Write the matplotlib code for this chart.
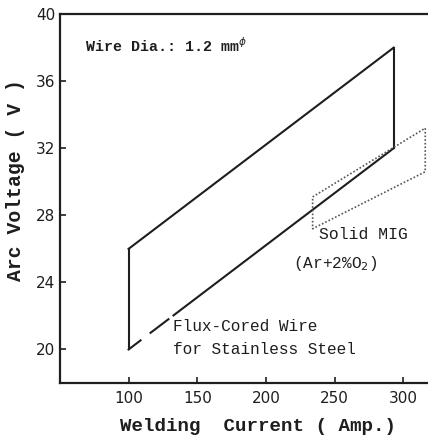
import matplotlib.pyplot as plt

# flux-cored wire operating window (current A, voltage V)
flux_current = [100, 100, 293, 293]
flux_voltage = [26, 20, 32, 38]

# solid MIG window (dotted)
mig_current = [234, 316, 316, 234, 234]
mig_voltage = [29.1, 33.2, 30.6, 27.2, 29.1]

x_ticks = [100, 150, 200, 250, 300]
y_ticks = [20, 24, 28, 32, 36, 40]

mono = 'Liberation Mono'
ink = '#1e1e1e'

fig = plt.figure(figsize=(4.28, 4.41), dpi=100)
ax = fig.add_axes([0.140, 0.1315, 0.86, 0.8365])

# upper edge, verticals
ax.plot([flux_current[0], flux_current[3]], [flux_voltage[0], flux_voltage[3]], color=ink, lw=1.5)
ax.plot([flux_current[0], flux_current[1]], [flux_voltage[0], flux_voltage[1]], color=ink, lw=1.5)
ax.plot([flux_current[3], flux_current[2]], [flux_voltage[3], flux_voltage[2]], color=ink, lw=1.5)

# lower edge, broken near the start where the leader to the label is
slope = (flux_voltage[2] - flux_voltage[1]) / (flux_current[2] - flux_current[1])
low = lambda a: flux_voltage[1] + slope * (a - flux_current[1])
for a0, a1 in [(100, 108.7), (116, 129), (132.7, 293)]:
    ax.plot([a0, a1], [low(a0), low(a1)], color=ink, lw=1.5)

ax.plot(mig_current, mig_voltage, color='#555555', lw=1.2, ls=(0, (1, 1.2)))

ax.set_xlim(50, 318)
ax.set_ylim(18, 40)
ax.set_xticks(x_ticks)
ax.set_yticks(y_ticks)
ax.tick_params(direction='in', length=4, width=1.2, labelsize=11, color=ink, labelcolor=ink)
ax.tick_params(axis='x', pad=6)
ax.spines['right'].set_visible(False)
for s in ['left', 'bottom', 'top']:
    ax.spines[s].set_linewidth(1.6)
    ax.spines[s].set_color(ink)

ax.set_xlabel('Welding  Current ( Amp.)', family=mono, fontsize=13.8, fontweight='bold', color=ink)
ax.set_ylabel('Arc Voltage ( V )', family=mono, fontsize=14.2, fontweight='bold', color=ink)
ax.xaxis.set_label_coords(0.538, -0.095)
ax.yaxis.set_label_coords(-0.095, 0.55)

ax.text(0.068, 0.914, r'Wire Dia.: 1.2 mm$^{\phi}$', transform=ax.transAxes, family=mono,
        fontsize=10.8, fontweight='bold', color=ink, va='center')
ax.text(132, 21.35, 'Flux-Cored Wire', family=mono, fontsize=11.6, color=ink, va='center')
ax.text(132, 20.0, 'for Stainless Steel', family=mono, fontsize=11.6, color=ink, va='center')
ax.text(239, 26.85, 'Solid MIG', family=mono, fontsize=11.8, color=ink, va='center')
ax.text(220, 25.15, r'(Ar+2%O$_2$)', family=mono, fontsize=11.6, color=ink, va='center')

fig.savefig('out.png', dpi=100)
